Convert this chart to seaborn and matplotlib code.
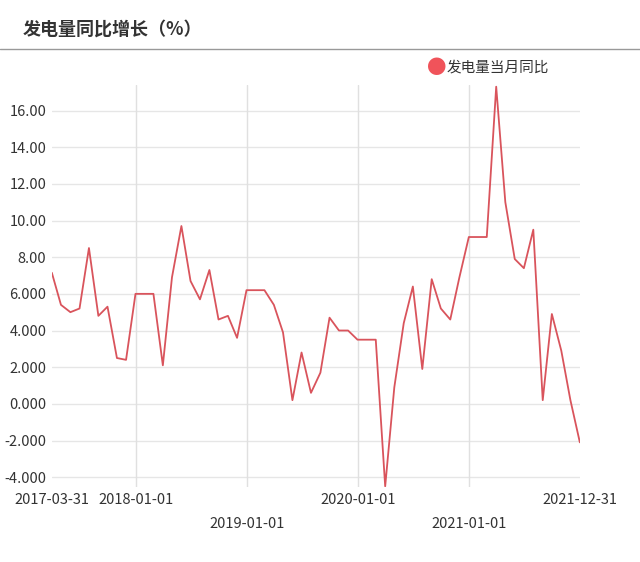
import pandas as pd
import matplotlib.pyplot as plt
import matplotlib.transforms as mtrans
import seaborn as sns

# monthly data, 2017-03 .. 2021-12
values = [7.15, 5.4, 5.0, 5.2, 8.5, 4.8, 5.3, 2.5, 2.4, 6.0,
          6.0, 6.0, 2.1, 6.9, 9.7, 6.7, 5.7, 7.3, 4.6, 4.8,
          3.6, 6.2, 6.2, 6.2, 5.4, 3.9, 0.2, 2.8, 0.6, 1.7,
          4.7, 4.0, 4.0, 3.5, 3.5, 3.5, -4.5, 0.9, 4.4, 6.4,
          1.9, 6.8, 5.2, 4.6, 6.9, 9.1, 9.1, 9.1, 17.3, 11.0,
          7.9, 7.4, 9.5, 0.2, 4.9, 2.9, 0.2, -2.1]
dates = pd.date_range('2017-03-31', periods=len(values), freq='ME')
series_name = '发电量当月同比'
title = '发电量同比增长（%）'
y_ticks = [-4, -2, 0, 2, 4, 6, 8, 10, 12, 14, 16]
y_labels = ['-4.000', '-2.000', '0.000', '2.000', '4.000', '6.000',
            '8.00', '10.00', '12.00', '14.00', '16.00']
x_ticks = ['2017-03-31', '2018-01-01', '2019-01-01', '2020-01-01', '2021-01-01', '2021-12-31']
x_row = [0, 0, 1, 0, 1, 0]

df = pd.DataFrame({'date': dates, 'value': values})

sns.set_style('white')
plt.rcParams['font.family'] = ['Noto Sans CJK SC', 'DejaVu Sans']

fig = plt.figure(figsize=(6.4, 5.62), dpi=100)
ax = fig.add_axes([0.081, 0.133, 0.825, 0.716])
sns.lineplot(x='date', y='value', data=df, color='#d9545c', linewidth=1.3, ax=ax)

ax.set_xlim(dates[0], dates[-1])
ax.set_ylim(-4.55, 17.4)
ax.set_yticks(y_ticks)
ax.set_yticklabels(y_labels, fontsize=10.5, color='#333333')
ax.tick_params(axis='y', length=0, pad=4)
for v in y_ticks:
    ax.axhline(v, color='#e6e6e6', linewidth=1, zorder=0)
ax.set_xticks([])
for d in x_ticks[1:5]:
    ax.axvline(pd.Timestamp(d), color='#e0e0e0', linewidth=1, zorder=0)

trans = mtrans.blended_transform_factory(ax.transData, ax.transAxes)
for d, r in zip(x_ticks, x_row):
    ax.text(pd.Timestamp(d), -0.015 - 0.058 * r, d, transform=trans,
            ha='center', va='top', fontsize=10.5, color='#333333')

ax.set_xlabel('')
ax.set_ylabel('')
sns.despine(ax=ax, left=True, bottom=True)

# title and separator
fig.text(0.035, 0.948, title, fontsize=13, fontweight='bold', color='#333333', va='center')
fig.add_artist(plt.Line2D([0.0, 1.0], [0.912, 0.912], color='#999999', linewidth=1))

# legend
fig.text(0.682, 0.879, '●', fontsize=14, color='#f0535a', va='center', ha='center')
fig.text(0.698, 0.879, series_name, fontsize=10.5, color='#333333', va='center')

fig.savefig('out.png', dpi=100)
